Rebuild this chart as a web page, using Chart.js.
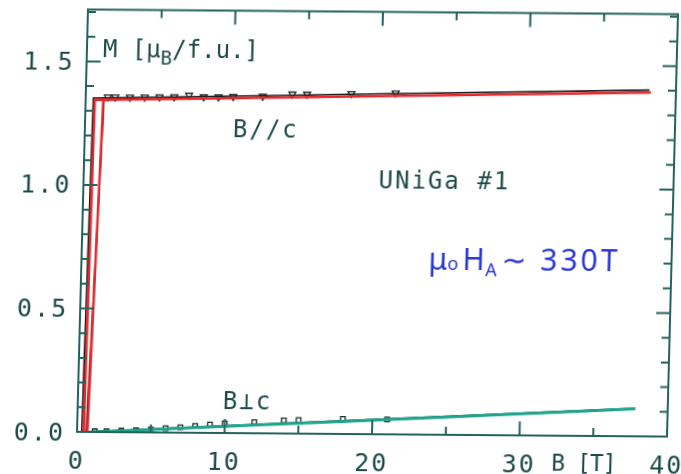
<!DOCTYPE html>
<html>
<head>
<meta charset="utf-8">
<script src="https://cdn.jsdelivr.net/npm/chart.js@4.4.1/dist/chart.umd.min.js"></script>
<style>
  html, body { margin: 0; padding: 0; background: #fff; }
  /* the plotted sheet sits slightly skewed on the page */
  #sheet {
    position: relative; width: 681px; height: 474px;
    transform-origin: 77px 432px;
    transform: matrix(1, 0.008, -0.026, 1, 0, 0);
  }
  canvas { display: block; }
</style>
</head>
<body>
<div id="sheet"><canvas id="mag" width="681" height="474"></canvas></div>
<script>
// UNiGa #1 magnetisation curves, M [muB/f.u.] vs B [T]

// axis ticks
const xTickValues = [0, 10, 20, 30, 40];
const yTickValues = [0.0, 0.5, 1.0, 1.5];

// B // c : continuous sweep traces (field up through the jump, along the plateau and back)
const parTraceB = [0.32, 0.52, 10, 20, 38.2, 20, 10, 1.25, 0.62];
const parTraceM = [0.00, 1.352, 1.364, 1.378, 1.402, 1.378, 1.364, 1.352, 0.00];
const parRedB = [0.45, 0.62, 10, 20, 38.3, 20, 10, 1.2, 0.7];
const parRedM = [0.00, 1.345, 1.356, 1.369, 1.392, 1.369, 1.356, 1.345, 0.00];

// B // c : point measurements
const parPointB = [1.5, 2, 3, 4, 5, 6, 7, 8, 9, 10, 12, 14, 15, 18, 21];
const parPointM = [1.356, 1.356, 1.356, 1.357, 1.358, 1.359, 1.366, 1.360, 1.360, 1.362, 1.364, 1.374, 1.374, 1.378, 1.382];

// B perp c : sweep traces
const perpTraceB = [0.4, 10, 20, 37.8];
const perpTraceM = [0.000, 0.030, 0.060, 0.114];
const perpGreenB = [0.4, 10, 20, 37.8];
const perpGreenM = [-0.003, 0.027, 0.057, 0.111];

// B perp c : point measurements
const perpPointB = [1.2, 2, 3, 4, 5, 6, 7, 8, 9, 10, 12, 14, 15, 18, 21];
const perpPointM = [0.003, 0.003, 0.006, 0.008, 0.011, 0.018, 0.022, 0.028, 0.034, 0.039, 0.045, 0.053, 0.055, 0.061, 0.060];

const ink = '#1c4a46';
const frameInk = '#24635d';
const monoFont = '"DejaVu Sans Mono", monospace';

const pairs = (xs, ys) => xs.map((x, i) => ({ x: x, y: ys[i] }));

function drawRuns(ctx, x, y, runs, size) {
    let cx = x;
    runs.forEach(r => {
        const s = r.sub ? size * 0.8 : size;
        ctx.font = s + 'px ' + monoFont;
        ctx.fillText(r.t, cx, y + (r.sub ? size * 0.28 : 0));
        cx += ctx.measureText(r.t).width;
    });
}

// keep the plot box where it is, whatever the label sizes
function pinScale(s) {
    s.paddingLeft = 0; s.paddingRight = 0;
    s.paddingTop = 0; s.paddingBottom = 0;
}

const framePlugin = {
    id: 'frame',
    beforeDraw(chart) {
        chart.ctx.letterSpacing = '2px';
    },
    afterDraw(chart) {
        const { ctx, chartArea: a, scales: { x, y } } = chart;
        ctx.save();
        ctx.strokeStyle = frameInk;
        ctx.lineWidth = 2;
        ctx.strokeRect(a.left, a.top, a.right - a.left, a.bottom - a.top);

        // inward ticks on all four sides
        ctx.beginPath();
        for (let v = 5; v < 40; v += 5) {
            const px = x.getPixelForValue(v);
            const len = v % 10 === 0 ? 14 : 8;
            ctx.moveTo(px, a.bottom); ctx.lineTo(px, a.bottom - len);
            ctx.moveTo(px, a.top); ctx.lineTo(px, a.top + len);
        }
        for (let k = 1; k <= 17; k++) {
            const py = y.getPixelForValue(k / 10);
            const len = k % 5 === 0 ? 14 : 8;
            ctx.moveTo(a.left, py); ctx.lineTo(a.left + len, py);
            ctx.moveTo(a.right, py); ctx.lineTo(a.right - len, py);
        }
        ctx.stroke();

        // labels
        ctx.fillStyle = ink;
        ctx.textBaseline = 'alphabetic';
        ctx.letterSpacing = '0px';
        drawRuns(ctx, 93, 57, [{ t: 'M [\u03bc' }, { t: 'B', sub: true }, { t: '/f.u.]' }], 24);
        ctx.letterSpacing = '2px';
        drawRuns(ctx, 225, 136, [{ t: 'B//c' }], 24);
        drawRuns(ctx, 372, 186, [{ t: 'UNiGa #1' }], 24);
        drawRuns(ctx, 222, 408, [{ t: 'B\u22a5c' }], 24);
        ctx.letterSpacing = '-1px';
        drawRuns(ctx, 552, 467, [{ t: 'B [T]' }], 23);

        // hand-written note
        ctx.fillStyle = '#2a36d6';
        ctx.letterSpacing = '3px';
        ctx.font = '30px "Noto Sans"';
        ctx.fillText('\u03bc', 424, 267);
        ctx.font = '18px "Noto Sans"';
        ctx.fillText('o', 443, 267);
        ctx.font = '30px "Noto Sans"';
        ctx.fillText('H', 458, 267);
        ctx.font = '18px "Noto Sans"';
        ctx.fillText('A', 481, 273);
        ctx.font = '30px "Noto Sans"';
        ctx.fillText('\u223c 330T', 497, 267);
        ctx.restore();
    }
};

new Chart(document.getElementById('mag'), {
    type: 'scatter',
    data: {
        datasets: [
            { data: pairs(parRedB, parRedM), showLine: true, borderColor: '#e8282c', borderWidth: 2.5, pointRadius: 0 },
            { data: pairs(parTraceB, parTraceM), showLine: true, borderColor: '#1a1a1a', borderWidth: 1.6, pointRadius: 0 },
            { data: pairs(perpGreenB, perpGreenM), showLine: true, borderColor: '#1ea58e', borderWidth: 3, pointRadius: 0 },
            { data: pairs(perpTraceB, perpTraceM), showLine: true, borderColor: '#1a2a28', borderWidth: 1.4, pointRadius: 0 },
            { data: pairs(parPointB, parPointM), pointStyle: 'triangle', rotation: 180, pointRadius: 4,
              borderColor: '#1a2a28', borderWidth: 1.3, backgroundColor: '#fff' },
            { data: pairs(perpPointB, perpPointM), pointStyle: 'rect', pointRadius: 3.2,
              borderColor: '#1a2a28', borderWidth: 1.3, backgroundColor: '#fff' }
        ]
    },
    options: {
        responsive: false,
        animation: false,
        devicePixelRatio: 1,
        layout: { padding: { top: 9.5, right: 14, left: 0, bottom: 0 } },
        plugins: { legend: { display: false }, tooltip: { enabled: false } },
        scales: {
            x: {
                type: 'linear', min: 0, max: 40,
                grid: { display: false, drawTicks: false }, border: { display: false },
                afterBuildTicks: s => { s.ticks = xTickValues.map(v => ({ value: v })); },
                afterFit: s => { s.height = 42; pinScale(s); },
                ticks: { color: ink, padding: 15, maxRotation: 0, autoSkip: false,
                         font: { family: monoFont, size: 25 }, callback: v => String(v) }
            },
            y: {
                type: 'linear', min: 0, max: 1.71,
                grid: { display: false, drawTicks: false }, border: { display: false },
                afterBuildTicks: s => { s.ticks = yTickValues.map(v => ({ value: v })); },
                afterFit: s => { s.width = 77; pinScale(s); },
                ticks: { color: ink, padding: 12, labelOffset: 2, autoSkip: false,
                         font: { family: monoFont, size: 25 }, callback: v => v.toFixed(1) }
            }
        }
    },
    plugins: [framePlugin]
});
</script>
</body>
</html>
